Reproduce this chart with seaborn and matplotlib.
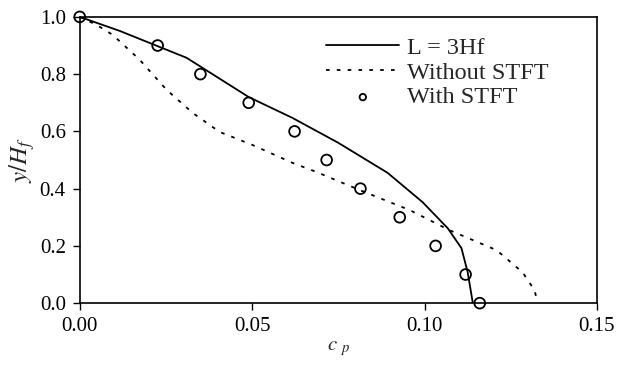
import matplotlib
matplotlib.use("Agg")
import matplotlib.pyplot as plt
import seaborn as sns
import pandas as pd

# L = 3Hf (solid)
cp_l3 = [0.0, 0.0116, 0.031, 0.049, 0.0617, 0.075, 0.0893, 0.0994, 0.1067, 0.1107, 0.1125, 0.114]
y_l3 = [1.0, 0.951, 0.857, 0.72, 0.647, 0.56, 0.455, 0.353, 0.262, 0.192, 0.108, 0.0]

# Without STFT (dotted)
cp_wo = [0.0, 0.0049, 0.0096, 0.0174, 0.0252, 0.0328, 0.0406, 0.0502, 0.0617, 0.0687,
         0.0812, 0.087, 0.0957, 0.1072, 0.1209, 0.1284, 0.1319, 0.1328]
y_wo = [1.0, 0.972, 0.937, 0.85, 0.745, 0.664, 0.598, 0.552, 0.49, 0.458,
        0.395, 0.367, 0.325, 0.255, 0.185, 0.108, 0.045, 0.0]

# With STFT (circles)
cp_w = [0.0, 0.0226, 0.035, 0.049, 0.0623, 0.0716, 0.0814, 0.0928, 0.1032, 0.1119, 0.116]
y_w = [1.0, 0.9, 0.8, 0.7, 0.6, 0.5, 0.4, 0.3, 0.2, 0.1, 0.0]

sns.set_style("ticks")
plt.rcParams['font.family'] = ['Liberation Serif', 'DejaVu Serif']
plt.rcParams['mathtext.fontset'] = 'stix'

fig = plt.figure(figsize=(6.18, 3.67), dpi=100)
ax = fig.add_axes([0.129, 0.174, 0.837, 0.78])

df_l3 = pd.DataFrame({"cp": cp_l3, "y": y_l3})
df_wo = pd.DataFrame({"cp": cp_wo, "y": y_wo})
df_w = pd.DataFrame({"cp": cp_w, "y": y_w})

sns.lineplot(data=df_l3, x="cp", y="y", ax=ax, color="black", lw=1.3,
             sort=False, estimator=None, label="L = 3Hf")
sns.lineplot(data=df_wo, x="cp", y="y", ax=ax, color="black", lw=1.3,
             linestyle=(0, (2, 4)), sort=False, estimator=None, label="Without STFT")
sns.scatterplot(data=df_w, x="cp", y="y", ax=ax, marker="o", s=60,
                facecolor="none", edgecolor="black", linewidth=1.3,
                label="With STFT", zorder=5, clip_on=False)

ax.set_xlim(0, 0.15)
ax.set_ylim(0, 1.0)
ax.set_xticks([0, 0.05, 0.10, 0.15])
ax.set_xticklabels(["0.00", "0.05", "0.10", "0.15"])
ax.set_yticks([0, 0.2, 0.4, 0.6, 0.8, 1.0])
ax.set_yticklabels(["0.0", "0.2", "0.4", "0.6", "0.8", "1.0"])
ax.tick_params(labelsize=15, direction="out", length=5, width=1, colors="black", pad=5)
for s in ax.spines.values():
    s.set_linewidth(1.2)
    s.set_color("black")

ax.set_xlabel(r"$c\ _p$", fontsize=15, labelpad=2)
ax.set_ylabel(r"$y/H_f$", fontsize=18, labelpad=2)

leg = ax.legend(loc="upper left", bbox_to_anchor=(0.458, 0.965), frameon=False,
                fontsize=17.5, handlelength=3.0, handletextpad=0.3, labelspacing=0.12,
                borderaxespad=0.0, markerscale=0.6)

fig.savefig("out.png", dpi=100)
